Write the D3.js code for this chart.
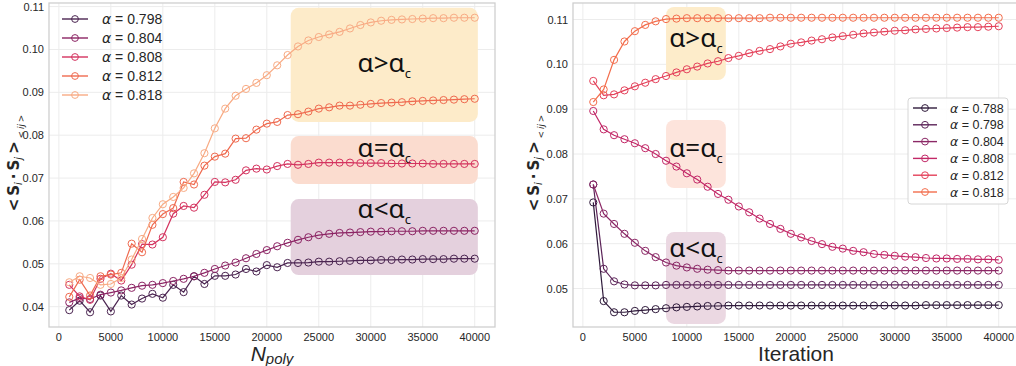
<!DOCTYPE html>
<html><head><meta charset="utf-8">
<script src="https://cdn.jsdelivr.net/npm/d3@7"></script>
<style>body{margin:0;background:#fff}svg{display:block}</style>
</head><body><svg id="c" width="1016" height="366"></svg>
<script>
// ---------- data ----------
const xVals = [1000,2000,3000,4000,5000,6000,7000,8000,9000,10000,11000,12000,13000,14000,15000,16000,17000,18000,19000,20000,21000,22000,23000,24000,25000,26000,27000,28000,29000,30000,31000,32000,33000,34000,35000,36000,37000,38000,39000,40000];
const xTicks = [0,5000,10000,15000,20000,25000,30000,35000,40000];

const leftAlphas = ["0.798","0.804","0.808","0.812","0.818"];
const L798 = [0.0392,0.0414,0.0387,0.0426,0.0389,0.0426,0.0405,0.0419,0.0430,0.0421,0.0451,0.0434,0.0471,0.0453,0.0472,0.0472,0.0475,0.0488,0.0482,0.0497,0.0492,0.0502,0.0502,0.0503,0.0505,0.0505,0.0506,0.0507,0.0508,0.0508,0.0509,0.0509,0.0510,0.0510,0.0511,0.0511,0.0511,0.0512,0.0512,0.0512];
const L804 = [0.0410,0.0420,0.0418,0.0428,0.0433,0.0438,0.0444,0.0449,0.0451,0.0455,0.0460,0.0465,0.0471,0.0479,0.0488,0.0496,0.0503,0.0513,0.0523,0.0532,0.0541,0.0549,0.0556,0.0562,0.0567,0.0570,0.0572,0.0573,0.0574,0.0575,0.0575,0.0576,0.0576,0.0576,0.0577,0.0577,0.0577,0.0577,0.0577,0.0577];
const L808 = [0.0451,0.0424,0.0416,0.0465,0.0477,0.0461,0.0498,0.0546,0.0545,0.0562,0.0617,0.0635,0.0631,0.0661,0.0691,0.0690,0.0696,0.0718,0.0722,0.0720,0.0728,0.0733,0.0731,0.0733,0.0736,0.0736,0.0736,0.0736,0.0735,0.0735,0.0735,0.0734,0.0734,0.0734,0.0734,0.0733,0.0733,0.0733,0.0733,0.0733];
const L812 = [0.0423,0.0463,0.0426,0.0471,0.0475,0.0479,0.0547,0.0527,0.0591,0.0616,0.0630,0.0691,0.0685,0.0729,0.0750,0.0757,0.0792,0.0793,0.0813,0.0827,0.0831,0.0847,0.0849,0.0855,0.0862,0.0865,0.0869,0.0869,0.0871,0.0873,0.0875,0.0876,0.0877,0.0879,0.0880,0.0881,0.0882,0.0883,0.0884,0.0885];
const L818 = [0.0457,0.0471,0.0467,0.0451,0.0453,0.0467,0.0510,0.0558,0.0607,0.0639,0.0656,0.0677,0.0711,0.0758,0.0816,0.0862,0.0892,0.0908,0.0922,0.0940,0.0963,0.0987,0.1007,0.1021,0.1029,0.1035,0.1041,0.1049,0.1057,0.1063,0.1067,0.1069,0.1070,0.1071,0.1072,0.1073,0.1073,0.1074,0.1074,0.1074];
const leftYTicks = [0.04,0.05,0.06,0.07,0.08,0.09,0.10,0.11];

const rightAlphas = ["0.788","0.798","0.804","0.808","0.812","0.818"];
const R788 = [0.0692,0.0472,0.0447,0.0447,0.0450,0.0452,0.0454,0.0456,0.0458,0.0459,0.0460,0.0461,0.0461,0.0462,0.0462,0.0462,0.0462,0.0462,0.0462,0.0462,0.0462,0.0462,0.0462,0.0462,0.0462,0.0462,0.0462,0.0462,0.0462,0.0462,0.0462,0.0462,0.0463,0.0463,0.0463,0.0463,0.0463,0.0463,0.0463,0.0463];
const R798 = [0.0732,0.0544,0.0516,0.0509,0.0507,0.0507,0.0507,0.0508,0.0508,0.0508,0.0508,0.0508,0.0508,0.0508,0.0508,0.0508,0.0508,0.0508,0.0508,0.0508,0.0508,0.0508,0.0508,0.0508,0.0508,0.0508,0.0508,0.0508,0.0508,0.0508,0.0508,0.0508,0.0508,0.0508,0.0508,0.0508,0.0508,0.0508,0.0508,0.0508];
const R804 = [0.0732,0.0667,0.0644,0.0622,0.0602,0.0584,0.0570,0.0558,0.0551,0.0547,0.0544,0.0542,0.0541,0.0540,0.0540,0.0540,0.0540,0.0540,0.0540,0.0540,0.0540,0.0540,0.0540,0.0540,0.0540,0.0540,0.0540,0.0540,0.0540,0.0540,0.0540,0.0540,0.0540,0.0540,0.0540,0.0540,0.0540,0.0540,0.0540,0.0540];
const R808 = [0.0896,0.0855,0.0842,0.0833,0.0824,0.0813,0.0800,0.0785,0.0772,0.0757,0.0743,0.0727,0.0711,0.0698,0.0683,0.0670,0.0656,0.0644,0.0633,0.0622,0.0614,0.0606,0.0599,0.0593,0.0589,0.0584,0.0581,0.0577,0.0575,0.0573,0.0571,0.0570,0.0568,0.0567,0.0567,0.0566,0.0566,0.0565,0.0565,0.0564];
const R812 = [0.0963,0.0931,0.0933,0.0942,0.0951,0.0959,0.0967,0.0974,0.0982,0.0989,0.0995,0.1002,0.1007,0.1014,0.1019,0.1025,0.1030,0.1034,0.1040,0.1046,0.1049,0.1053,0.1056,0.1060,0.1063,0.1066,0.1069,0.1071,0.1073,0.1075,0.1076,0.1078,0.1079,0.1080,0.1081,0.1082,0.1083,0.1083,0.1084,0.1085];
const R818 = [0.0916,0.0944,0.1010,0.1051,0.1074,0.1088,0.1096,0.1101,0.1102,0.1103,0.1103,0.1103,0.1103,0.1103,0.1103,0.1103,0.1103,0.1104,0.1104,0.1104,0.1104,0.1104,0.1104,0.1104,0.1104,0.1104,0.1104,0.1104,0.1104,0.1104,0.1104,0.1104,0.1104,0.1104,0.1104,0.1104,0.1104,0.1104,0.1104,0.1104];
const rightYTicks = [0.05,0.06,0.07,0.08,0.09,0.10,0.11];

// annotation regions in data units
const leftRegions = [
  {x0:22300,x1:40300,y0:0.1097,y1:0.0831,rel:">",ty:0.0947,fill:"#fdebc9"},
  {x0:22300,x1:40300,y0:0.0798,y1:0.0686,rel:"=",ty:0.0749,fill:"#fbdccf"},
  {x0:22300,x1:40300,y0:0.0651,y1:0.0474,rel:"<",ty:0.0607,fill:"#e4d0dd"}
];
const rightRegions = [
  {x0:8000,x1:13750,y0:0.1128,y1:0.0965,rel:">",ty:0.1039,fill:"#fdecca"},
  {x0:8000,x1:13750,y0:0.0876,y1:0.0724,rel:"=",ty:0.0793,fill:"#fde4dc"},
  {x0:8000,x1:13750,y0:0.0626,y1:0.0421,rel:"<",ty:0.0570,fill:"#ebd8e2"}
];

const leftColors = ["#4b2551","#8c2464","#d4335f","#ef6a4f","#f8ab84"];
const rightColors = ["#2f1a3b","#5c2459","#8b2866","#c22867","#e4415a","#f36d4c"];

const svg = d3.select("#c");
const FONT = "'Liberation Sans', Arial, sans-serif";

function panel(o){
  const all = o.series.flat();
  const lo = d3.min(all), hi = d3.max(all), pad = (hi-lo)*0.05;
  const xpad = (d3.max(xVals)-d3.min(xVals))*0.05;
  const x = d3.scaleLinear().domain([d3.min(xVals)-xpad, d3.max(xVals)+xpad]).range([o.left,o.right]);
  const y = d3.scaleLinear().domain([lo-pad, hi+pad]).range([o.bottom,o.top]);
  const g = svg.append("g");
  g.append("clipPath").attr("id",o.id).append("rect")
    .attr("x",o.left).attr("y",o.top).attr("width",o.right-o.left).attr("height",o.bottom-o.top);
  // grid
  g.append("g").selectAll("line").data(xTicks).join("line")
    .attr("x1",d=>x(d)).attr("x2",d=>x(d)).attr("y1",o.top).attr("y2",o.bottom)
    .attr("stroke","#ececec").attr("stroke-width",1);
  g.append("g").selectAll("line").data(o.yTicks).join("line")
    .attr("x1",o.left).attr("x2",o.right).attr("y1",d=>y(d)).attr("y2",d=>y(d))
    .attr("stroke","#ececec").attr("stroke-width",1);
  // regions
  const reg = g.append("g").attr("clip-path",`url(#${o.id})`);
  reg.selectAll("rect").data(o.regions).join("rect")
    .attr("x",d=>x(d.x0)).attr("width",d=>x(d.x1)-x(d.x0))
    .attr("y",d=>y(d.y0)).attr("height",d=>y(d.y1)-y(d.y0))
    .attr("rx",8).attr("fill",d=>d.fill);
  const rt = reg.selectAll("text").data(o.regions).join("text")
    .attr("x",d=>x((d.x0+d.x1)/2)).attr("y",d=>y(d.ty))
    .attr("text-anchor","middle").attr("font-family","'Noto Sans', 'Open Sans', sans-serif")
    .attr("font-size",26).attr("fill","#111");
  rt.append("tspan").text(d=>"α"+d.rel+"α");
  rt.append("tspan").attr("font-size",13).attr("dy",6).text("c");
  // lines
  const line = d3.line().x((d,i)=>x(xVals[i])).y(d=>y(d));
  const lg = g.append("g").attr("clip-path",`url(#${o.id})`);
  o.series.forEach((s,k)=>{
    lg.append("path").attr("d",line(s)).attr("fill","none").attr("stroke",o.colors[k]).attr("stroke-width",1.2);
    lg.append("g").selectAll("circle").data(s).join("circle")
      .attr("cx",(d,i)=>x(xVals[i])).attr("cy",d=>y(d)).attr("r",3.6)
      .attr("fill","none").attr("stroke",o.colors[k]).attr("stroke-width",1);
  });
  // frame
  g.append("rect").attr("x",o.left).attr("y",o.top).attr("width",o.right-o.left).attr("height",o.bottom-o.top)
    .attr("fill","none").attr("stroke","#cfcfcf").attr("stroke-width",1.3);
  // tick labels
  g.append("g").selectAll("text").data(xTicks).join("text")
    .attr("x",d=>x(d)).attr("y",o.bottom+14).attr("text-anchor","middle")
    .attr("font-family",FONT).attr("font-size",11).attr("fill","#262626").text(d=>d);
  g.append("g").selectAll("text").data(o.yTicks).join("text")
    .attr("x",o.left-5).attr("y",d=>y(d)+4).attr("text-anchor","end")
    .attr("font-family",FONT).attr("font-size",11).attr("fill","#262626").text(d=>d.toFixed(2));
  // y label
  const yl = g.append("text").attr("transform",`translate(${o.ylx},163) rotate(-90)`)
    .attr("text-anchor","middle").attr("font-family","'DejaVu Sans', sans-serif").attr("font-size",15)
    .attr("font-weight","bold").attr("fill","#262626");
  yl.append("tspan").text("<\u2009");
  yl.append("tspan").text("S");
  yl.append("tspan").attr("font-style","italic").attr("font-weight","normal").attr("font-size",10).attr("dy",3).text("i");
  yl.append("tspan").attr("dy",-3).text("\u2009·\u2009");
  yl.append("tspan").text("S");
  yl.append("tspan").attr("font-style","italic").attr("font-weight","normal").attr("font-size",10).attr("dy",3).text("j");
  yl.append("tspan").attr("dy",-3).text("\u2009>");
  yl.append("tspan").attr("font-weight","normal").attr("font-size",9).attr("dy",5).text(" <\u2009");
  yl.append("tspan").attr("font-weight","normal").attr("font-size",9).attr("font-style","italic").text("ij");
  yl.append("tspan").attr("font-weight","normal").attr("font-size",9).text("\u2009>");
  // x label
  const xl = g.append("text").attr("x",(o.left+o.right)/2).attr("y",361).attr("text-anchor","middle")
    .attr("font-family",FONT).attr("font-size",21).attr("fill","#262626");
  o.xlabel(xl);
  // legend
  const L = o.legend;
  const lgd = g.append("g");
  if (L.frame) lgd.append("rect").attr("x",L.fx).attr("y",L.fy).attr("width",L.fw).attr("height",L.fh)
    .attr("rx",3).attr("fill","#fff").attr("fill-opacity",0.85).attr("stroke","#d6d6d6");
  o.labels.forEach((lab,k)=>{
    const yy = L.y0 + k*L.dy;
    lgd.append("line").attr("x1",L.lx).attr("x2",L.lx+L.len).attr("y1",yy).attr("y2",yy)
      .attr("stroke",o.colors[k]).attr("stroke-width",1.4);
    lgd.append("circle").attr("cx",L.lx+L.len/2).attr("cy",yy).attr("r",3.4)
      .attr("fill","none").attr("stroke",o.colors[k]).attr("stroke-width",1);
    const t = lgd.append("text").attr("x",L.tx).attr("y",yy+L.fs*0.36).attr("font-family",FONT)
      .attr("font-size",L.fs).attr("fill","#262626");
    t.append("tspan").attr("font-style","italic").attr("font-family","'DejaVu Sans', sans-serif").text("α");
    t.append("tspan").text(" = "+lab);
  });
}

panel({id:"clipL",left:49,right:495,top:3,bottom:327,series:[L798,L804,L808,L812,L818],
  colors:leftColors,labels:leftAlphas,yTicks:leftYTicks,regions:leftRegions,ylx:19,
  xlabel:t=>{t.append("tspan").attr("font-style","italic").text("N");
             t.append("tspan").attr("font-style","italic").attr("font-size",15).attr("dy",3).text("poly");},
  legend:{frame:false,y0:19,dy:19,lx:62,len:26,tx:102,fs:14}});

panel({id:"clipR",left:573,right:1019,top:3,bottom:327,series:[R788,R798,R804,R808,R812,R818],
  colors:rightColors,labels:rightAlphas,yTicks:rightYTicks,regions:rightRegions,ylx:539,
  xlabel:t=>{t.text("Iteration");},
  legend:{frame:true,fx:908,fy:98,fw:100,fh:106,y0:108,dy:16.8,lx:913,len:24,tx:950,fs:12.5}});
</script></body></html>
